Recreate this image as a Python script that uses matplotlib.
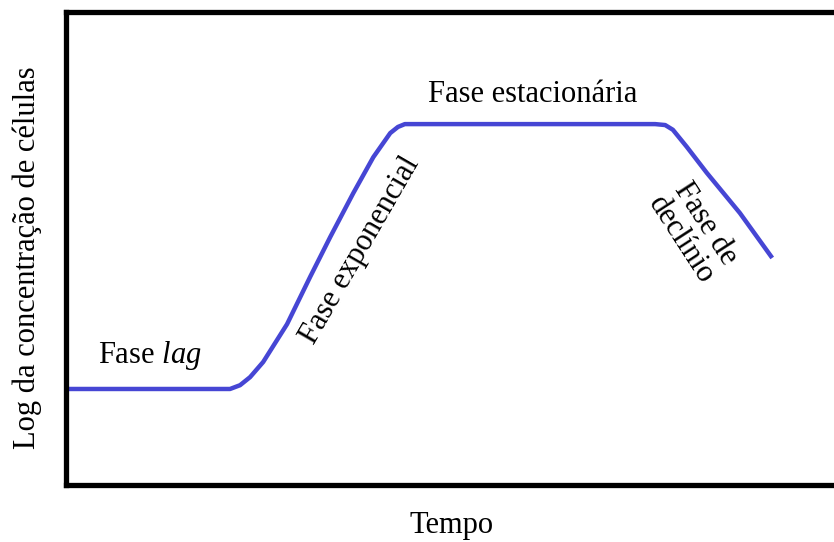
import matplotlib.pyplot as plt

plt.rcParams['font.family'] = ['Liberation Serif', 'DejaVu Serif']
plt.rcParams['mathtext.fontset'] = 'custom'
plt.rcParams['mathtext.it'] = 'Liberation Serif:italic'
plt.rcParams['mathtext.rm'] = 'Liberation Serif'

# --- dados da curva de crescimento (unidades arbitrárias) ---
tempo = [0.0, 2.13, 2.26, 2.39, 2.56, 2.87, 3.17, 3.43, 3.73, 3.99, 4.21,
         4.31, 4.40, 7.65, 7.78, 7.88, 8.06, 8.32, 8.75, 9.17]
log_conc = [2.03, 2.03, 2.11, 2.28, 2.60, 3.40, 4.40, 5.24, 6.17, 6.93, 7.44,
            7.57, 7.63, 7.63, 7.61, 7.51, 7.15, 6.60, 5.75, 4.80]

fases = ["Fase $\\mathit{lag}$", "Fase exponencial", "Fase estacionária",
         "Fase de\ndeclínio"]
fase_pos = [(0.42, 2.73), (3.82, 4.97), (6.06, 8.25), (8.14, 5.35)]
fase_rot = [0, 60, 0, -57]
fase_ha = ["left", "center", "center", "center"]

FS = 22

fig = plt.figure(figsize=(8.34, 5.42), dpi=100)
ax = fig.add_axes([66 / 834, 57 / 542, 774 / 834, 473 / 542])

ax.plot(tempo, log_conc, color='#4646d4', lw=3.2, solid_capstyle='butt',
        solid_joinstyle='round')

for txt, (x, y), rot, ha in zip(fases, fase_pos, fase_rot, fase_ha):
    ax.text(x, y, txt, fontsize=FS, rotation=rot, ha=ha, va='center',
            rotation_mode='anchor', linespacing=1.0)

ax.set_xlim(0, 10.05)
ax.set_ylim(0, 10)
ax.set_xticks([])
ax.set_yticks([])
for s in ax.spines.values():
    s.set_linewidth(3.8)

fig.text(452 / 834, 1 - 525 / 542, "Tempo", fontsize=FS, ha='center', va='center')
fig.text(27 / 834, 1 - 258 / 542, "Log da concentração de células", fontsize=FS,
         rotation=90, ha='center', va='center')

fig.savefig("out.png", dpi=100)
